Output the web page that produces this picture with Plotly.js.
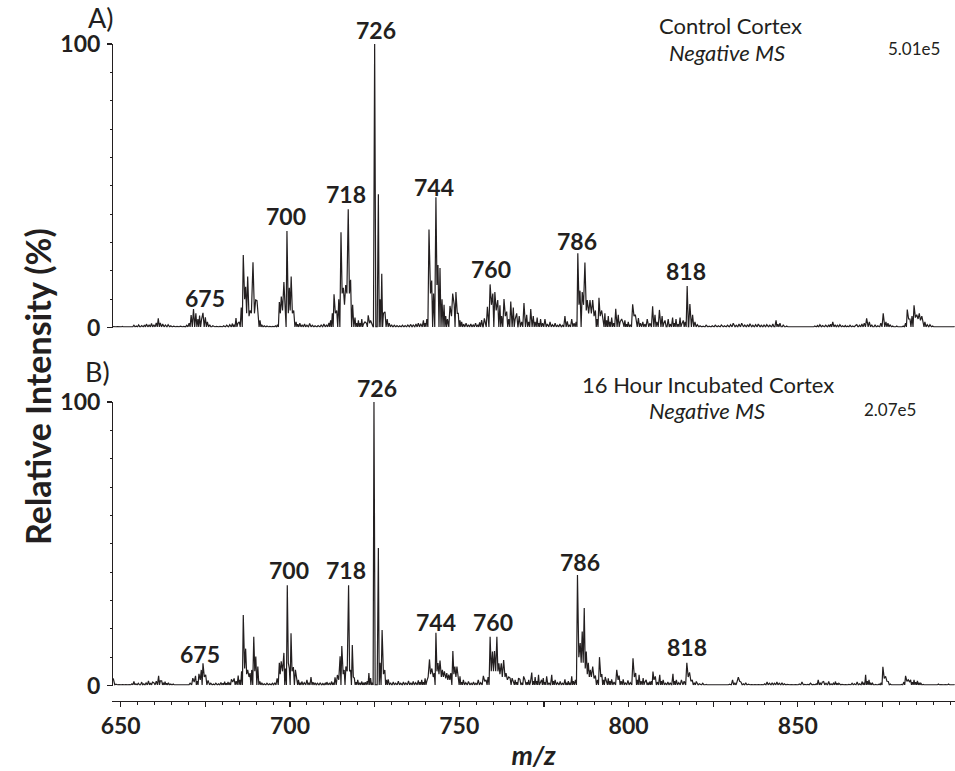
<!DOCTYPE html>
<html>
<head>
<meta charset="utf-8">
<script src="https://cdn.plot.ly/plotly-3.0.1.min.js"></script>
<style>html,body{margin:0;padding:0;background:#fff;}#chart{width:955px;height:771px;}</style>
</head>
<body>
<div id="chart"></div>
<script>
// ---------- DATA ----------
// Panel A: Control Cortex, profile readings (m/z, relative intensity %)
const mzA = [
647.6,649.0,650.5,652.0,653.9,654.6,655.3,656.2,657.0,657.6,
658.4,659.1,659.8,660.5,661.1,661.7,662.4,663.2,664.0,664.8,
665.6,666.6,667.6,668.6,669.5,670.2,670.8,671.5,672.2,672.8,
673.3,673.9,674.3,675.0,675.6,676.3,677.2,678.2,679.3,680.4,
681.3,682.2,683.0,683.5,684.05,684.6,685.0,685.6,686.2,686.6,
686.9,687.2,687.5,687.9,688.2,688.6,689.07,689.5,689.86,690.25,
690.6,691.14,691.7,692.4,693.2,694.0,694.9,695.7,696.3,696.85,
697.15,697.43,697.8,698.2,698.6,699.1,699.5,699.8,700.05,700.35,
700.7,701.1,701.8,702.3,702.9,703.6,704.3,705.0,705.8,706.6,
707.4,708.3,709.2,710.0,710.8,711.5,712.0,712.5,713.0,713.4,
713.8,714.4,715.06,715.4,715.75,716.1,716.45,716.8,717.2,717.55,
717.9,718.5,719.2,719.7,720.2,720.7,721.2,721.7,722.15,722.6,
723.1,723.5,723.8,724.2,725.0,726.1,726.6,727.1,727.6,728.05,
728.7,729.3,730.0,730.8,731.6,732.4,733.2,734.0,734.8,735.6,
736.4,737.2,737.9,738.6,739.4,739.9,740.4,741.05,741.5,741.85,
742.4,743.1,743.4,743.7,744.3,744.9,745.5,746.0,746.5,747.25,
747.7,748.05,748.5,749.0,749.4,749.7,750.2,750.7,751.3,752.0,
752.7,753.4,754.1,754.8,755.5,756.0,756.6,757.4,758.3,759.1,
759.5,759.9,760.5,760.9,761.35,762.0,762.5,763.2,763.6,764.0,
764.6,765.2,765.95,766.5,766.95,767.7,768.4,769.1,769.9,770.5,
771.1,771.85,772.4,773.0,773.5,774.0,774.6,775.3,776.0,776.8,
777.5,778.3,779.0,779.7,780.5,781.2,781.9,782.5,783.2,783.9,
784.5,785.0,785.35,785.65,786.3,786.7,787.1,787.5,787.8,788.2,
788.6,789.0,789.4,789.8,790.2,790.7,791.25,791.6,792.05,792.5,
793.0,793.5,794.0,794.5,795.0,795.6,796.2,796.95,797.5,797.95,
798.4,798.9,799.4,799.9,800.5,801.2,801.6,802.0,802.9,803.5,
804.2,804.8,805.5,806.3,807.1,807.8,808.4,809.1,809.9,810.4,
810.75,811.7,812.3,813.0,813.5,814.0,814.6,815.2,815.7,816.15,
816.7,817.3,818.1,818.9,819.6,820.3,821.1,822.0,822.9,823.8,
824.7,825.6,826.5,827.4,828.3,829.2,830.1,830.9,831.8,832.6,
833.4,834.3,835.1,835.85,836.7,837.5,838.3,839.2,840.0,840.8,
841.7,842.6,843.55,844.1,844.7,845.7,846.7,847.8,849.0,850.2,
851.4,852.6,853.8,855.0,855.8,856.5,857.3,858.2,859.1,859.7,
860.3,861.0,861.7,862.4,863.2,864.0,864.7,865.4,866.2,867.0,
867.4,868.2,868.9,869.6,870.3,871.1,871.8,872.8,873.6,874.5,
875.2,876.0,876.6,877.2,878.0,879.2,880.2,881.1,881.8,882.3,
882.7,883.1,883.7,884.3,884.7,885.1,885.5,885.85,886.2,886.6,
887.0,887.5,888.2,889.0,889.8,891.0,892.5,894.0,
896.3];
const intA = [
0.3,0.3,0.4,0.3,0.8,0.5,0.9,0.7,0.9,1.2,
1.0,1.4,1.0,1.6,3.2,1.6,1.2,0.9,1.0,0.6,
0.5,0.4,0.5,0.4,0.8,1.5,4.4,6.5,5.0,3.0,
4.2,3.0,5.2,3.6,2.0,1.0,0.6,0.4,0.4,0.6,
0.8,1.0,1.4,1.0,3.3,1.5,2.0,7.0,25.6,10.0,
14.4,5.0,18.0,4.0,6.0,5.0,23.0,5.0,9.7,9.5,
3.5,2.5,0.8,0.6,0.5,0.4,0.4,0.6,1.0,9.0,
5.0,10.9,6.0,16.0,8.0,34.0,5.0,14.0,6.0,18.0,
5.0,6.0,2.0,1.2,1.5,1.0,1.2,0.8,1.4,0.8,
0.6,0.7,0.9,1.2,1.0,1.6,2.5,5.0,11.7,5.0,
6.0,10.0,33.6,12.0,14.0,8.0,15.0,12.0,41.7,12.0,
16.8,8.0,3.5,1.5,2.5,1.5,3.0,1.2,2.0,1.5,
4.3,1.5,2.5,1.0,100,47.0,10.0,19.0,5.0,5.5,
3.0,1.5,1.0,0.8,0.7,0.6,0.8,0.7,0.9,1.1,
0.9,1.2,1.5,1.3,2.5,1.5,3.0,34.6,12.0,16.6,
12.0,45.9,15.0,22.0,21.0,10.0,8.0,4.0,3.0,7.6,
4.0,12.0,8.0,12.5,5.0,5.0,2.5,2.0,1.2,1.5,
1.0,1.2,0.9,1.5,1.0,1.8,2.6,3.2,7.3,15.2,
8.0,12.0,12.5,6.0,9.7,7.8,4.0,10.0,4.0,5.6,
3.0,9.2,7.0,3.0,5.0,4.0,2.0,8.6,4.5,2.0,
6.5,4.0,2.0,3.5,1.5,3.0,1.5,3.0,1.2,2.0,
1.0,1.5,0.8,1.2,0.8,4.0,2.2,1.0,3.0,1.5,
2.0,26.2,8.0,13.0,12.5,8.0,22.9,6.0,9.7,5.0,
9.7,5.0,9.7,4.0,6.0,3.0,10.5,4.0,6.0,3.0,
5.0,2.5,4.0,2.0,3.5,1.5,6.6,4.5,2.0,3.0,
1.5,2.5,1.2,2.0,1.0,8.2,4.0,4.5,3.3,1.5,
2.0,1.2,3.0,1.5,7.5,4.5,2.0,6.2,4.0,1.5,
2.5,3.0,1.2,3.5,1.5,3.0,1.2,3.5,1.2,2.5,
2.0,14.6,8.3,4.5,2.0,1.0,0.6,0.5,0.8,0.5,
0.6,0.8,0.6,0.9,0.6,0.8,1.0,1.5,0.8,1.2,
1.5,0.9,1.0,1.3,0.8,1.0,1.2,0.8,0.9,1.0,
0.8,1.2,2.5,1.2,1.5,1.0,0.5,0.3,0.3,0.3,
0.3,0.4,0.4,0.5,0.7,1.0,0.7,0.8,1.0,1.2,
2.0,1.0,0.8,1.0,0.6,0.7,0.5,0.8,0.5,0.7,
1.0,0.8,1.2,1.5,3.2,2.0,1.0,1.0,0.6,1.5,
5.0,2.0,1.5,1.0,0.5,0.5,0.4,0.5,1.5,6.3,
3.0,3.0,4.0,7.8,3.5,4.5,3.0,5.0,2.5,4.0,
1.5,2.0,1.0,1.0,0.5,0.3,0.3,0.3,
0.3];

// Panel B: 16 Hour Incubated Cortex
const mzB = [
647.8,648.6,649.5,650.5,651.5,652.5,653.3,653.9,654.5,655.2,
656.2,656.8,657.5,658.2,658.8,659.4,659.8,660.5,661.2,661.7,
662.1,662.6,663.1,663.6,664.1,664.8,665.5,666.5,667.5,668.5,
669.5,670.5,671.3,671.7,672.1,672.6,673.1,673.5,673.8,674.3,
674.7,675.1,675.8,676.6,677.4,678.1,678.9,679.6,680.2,680.7,
681.2,681.7,682.2,682.7,683.1,683.5,684.1,684.7,685.2,685.7,
686.2,686.6,686.9,687.2,687.5,687.9,688.2,688.7,689.3,689.6,
689.9,690.5,691.1,691.7,692.4,693.2,694.0,694.8,695.5,696.2,
696.85,697.1,697.4,697.8,698.2,698.7,699.2,699.5,699.8,700.3,
700.6,701.0,701.6,702.0,702.5,703.0,703.5,704.2,705.0,705.6,
706.2,706.8,707.4,708.1,708.9,709.7,710.4,710.9,711.6,712.3,
712.8,713.3,714.0,714.4,714.8,715.3,715.7,716.0,716.5,716.9,
717.3,717.6,717.9,718.4,718.7,719.0,719.5,720.0,720.6,721.2,
721.7,722.2,722.8,723.3,723.8,724.3,724.8,726.1,726.6,727.2,
727.6,728.0,728.5,729.0,729.7,730.5,731.2,732.0,732.7,733.5,
734.2,735.0,735.7,736.4,737.1,737.9,738.4,738.9,739.4,739.9,
740.4,740.8,741.2,741.5,741.9,742.3,742.6,743.1,743.4,743.7,
744.0,744.3,744.7,745.0,745.3,745.6,746.0,746.3,746.6,746.9,
747.2,747.5,748.1,748.4,748.7,749.0,749.3,749.7,750.2,750.7,
751.2,751.9,752.7,753.5,754.2,754.9,755.6,756.3,757.1,757.5,
757.9,758.5,759.1,759.45,759.8,760.1,760.4,760.75,761.1,761.4,
761.7,762.0,762.4,762.7,763.1,763.5,763.8,764.2,764.6,765.0,
765.6,766.0,766.5,767.0,767.5,767.9,768.5,769.0,769.4,770.0,
770.5,771.0,771.4,771.9,772.4,772.9,773.4,773.9,774.3,774.8,
775.3,775.8,776.5,777.3,777.8,778.3,779.0,779.8,780.5,781.2,
781.7,782.2,782.7,783.2,783.7,784.3,784.9,785.3,785.7,786.0,
786.3,786.6,786.9,787.2,787.5,787.8,788.1,788.4,788.7,789.0,
789.4,789.8,790.2,790.8,791.4,791.8,792.1,792.6,793.1,793.5,
794.0,794.5,795.0,795.7,796.5,796.9,797.2,797.8,798.4,799.0,
799.8,800.5,801.3,801.7,802.1,802.6,803.1,803.7,804.3,804.8,
805.2,805.7,806.2,806.7,807.2,807.5,807.9,808.5,809.2,809.7,
810.2,810.9,811.6,812.3,813.1,813.6,814.1,814.8,815.6,816.4,
817.2,817.6,818.0,818.4,818.8,819.4,820.0,820.9,821.9,822.9,
824.0,825.2,826.4,827.6,828.8,829.8,830.7,831.4,832.0,832.4,
832.8,833.2,833.9,834.6,835.4,836.3,837.3,838.3,839.3,840.2,
840.9,841.6,842.4,843.1,843.8,844.5,845.3,846.0,846.8,848.0,
849.2,850.4,851.2,852.0,852.9,853.7,854.6,855.4,856.0,856.6,
857.2,857.6,858.3,859.1,859.8,860.5,861.1,861.6,862.1,863.0,
864.0,865.0,866.0,866.7,867.5,868.2,869.0,869.5,870.0,870.5,
871.0,871.5,872.0,873.0,874.0,874.6,875.1,875.5,875.9,876.3,
876.7,877.3,878.4,879.6,880.6,881.3,881.8,882.2,882.6,883.0,
883.3,883.8,884.3,884.8,885.3,885.8,886.3,887.0,888.0,889.3,
890.5,891.5,892.2,893.5,894.5,896.3];
const intB = [
2.5,0.5,0.3,0.3,0.3,0.3,0.6,1.4,0.6,0.8,
1.2,0.6,0.9,1.6,0.9,1.2,1.0,1.5,3.4,1.6,
1.6,1.0,1.4,0.8,1.0,0.5,0.5,0.3,0.3,0.3,
0.3,0.8,2.6,1.2,3.4,1.5,4.1,2.0,5.5,7.8,
3.0,3.8,1.8,0.8,0.5,0.8,0.6,1.1,0.8,1.4,
0.8,1.3,1.0,2.2,1.2,2.5,1.5,3.5,2.0,5.0,
24.9,6.0,13.0,4.0,5.5,3.0,4.4,5.5,17.2,5.0,
10.2,6.7,1.4,0.8,0.6,0.8,0.6,0.8,1.0,2.5,
8.0,4.0,8.5,5.0,11.5,6.0,35.4,8.0,6.0,18.4,
5.0,6.5,5.5,2.0,2.0,1.0,1.4,1.0,2.0,1.0,
3.0,1.2,1.0,0.8,0.9,0.7,0.8,1.2,0.8,1.4,
1.0,2.9,3.7,2.0,10.3,13.9,4.0,5.5,6.7,5.0,
35.4,5.0,5.5,14.3,3.0,2.6,1.2,2.0,1.0,1.4,
1.0,1.2,1.5,4.4,2.6,1.0,100,48.5,8.0,19.6,
4.0,5.5,2.0,2.2,1.0,1.2,0.8,1.5,0.8,1.2,
0.9,1.6,1.0,1.4,1.0,1.8,1.2,2.0,1.2,2.5,
1.5,3.0,9.2,4.0,6.0,3.0,4.4,18.6,5.0,7.9,
4.0,8.8,3.0,5.5,3.0,5.0,2.5,4.4,2.0,3.8,
2.0,4.4,12.2,4.0,6.7,3.0,6.7,2.0,3.2,1.2,
2.0,1.0,1.4,0.8,1.2,0.8,2.0,1.0,3.4,1.5,
2.0,3.0,17.2,5.0,12.0,5.0,12.2,5.0,17.2,5.0,
7.8,4.0,7.8,3.0,9.0,3.0,4.4,2.0,3.0,2.6,
2.6,1.2,2.0,1.2,2.6,2.2,1.0,3.2,2.0,1.2,
2.0,1.0,4.6,1.5,3.0,1.5,3.8,1.2,2.0,2.6,
1.2,3.2,1.0,3.8,1.5,2.0,1.0,1.4,0.8,2.2,
1.0,1.5,1.0,3.2,1.5,2.0,39.0,10.0,15.0,8.0,
19.0,8.0,27.3,6.0,12.0,4.0,8.0,3.0,5.5,3.0,
6.7,2.5,3.5,2.0,10.0,3.0,4.0,2.0,3.0,1.5,
2.5,1.5,2.2,1.2,5.5,2.0,3.5,1.5,2.2,1.0,
1.8,1.0,9.6,3.0,4.4,2.0,3.8,1.5,2.6,1.2,
2.0,1.0,1.4,1.5,4.9,2.0,3.2,1.2,3.8,1.5,
2.0,0.8,1.2,1.0,4.1,1.5,2.0,1.0,2.0,1.5,
8.0,3.0,4.6,1.5,2.0,1.0,1.4,0.6,0.8,0.4,
0.3,0.3,0.3,0.3,0.3,0.5,2.0,0.8,1.2,2.9,
1.5,1.2,0.6,1.0,0.5,0.3,0.3,0.3,0.3,0.6,
1.2,0.8,1.0,0.8,1.2,0.8,1.0,0.6,0.4,0.3,
0.3,0.5,1.2,0.4,0.4,0.8,0.4,0.6,2.0,1.0,
1.2,1.4,0.8,1.4,0.6,0.8,1.4,0.8,0.8,0.4,
0.3,0.4,0.8,0.6,1.2,0.6,1.4,1.0,3.8,1.5,
2.0,1.0,0.8,0.4,0.5,1.0,6.6,2.5,3.2,1.5,
1.4,0.5,0.3,0.3,0.4,1.2,3.4,1.5,2.0,1.2,
2.0,1.2,2.0,1.2,1.6,1.0,0.8,0.4,0.3,0.3,
0.3,0.5,0.3,0.3,0.5,0.3];

// Peak labels and panel texts
const labelsA = ['675','700','718','726','744','760','786','818'];
const labelsB = ['675','700','718','726','744','760','786','818'];
const xTickVals = [650,675,700,725,750,775,800,825,850,875];
const xTickText = ['650','','700','','750','','800','','850',''];
const yTickVals = [0,100];
const yTickText = ['0','100'];
const scaleA = '5.01e5', scaleB = '2.07e5';
const titleA = 'Control Cortex', titleB = '16 Hour Incubated Cortex';
const modeText = 'Negative MS';

// ---------- LAYOUT / STYLE ----------
const INK = '#231f20';
const FONT = 'Lato, "Open Sans", sans-serif';
const H = 771;
const PL = 112, PR = 955, PT = 0, PB = 701;
const px = x => (x - PL) / (PR - PL);
const py = y => (PB - y) / (PB - PT);

// profile line through the readings; where two readings are far apart the line
// drops to the baseline between them (spike look of the spectrum)
const GAP = 0.5, FOOT = 0.35, BASE = 0.2;
function profile(mz, it) {
  const xs = [], ys = [];
  for (let i = 0; i < mz.length; i++) {
    if (i > 0 && mz[i] - mz[i-1] >= GAP) {
      const g = mz[i] - mz[i-1];
      const w = Math.min(FOOT, g / 2);
      xs.push(mz[i-1] + w); ys.push(BASE);
      if (g > 2 * w + 1e-9) { xs.push(mz[i] - w); ys.push(BASE); }
    }
    xs.push(mz[i]); ys.push(it[i]);
  }
  return {xs, ys};
}
const pA = profile(mzA, intA), pB = profile(mzB, intB);

const traces = [
  {x: pA.xs, y: pA.ys, xaxis: 'x', yaxis: 'y2', type: 'scatter', mode: 'lines', name: titleA,
   line: {color: INK, width: 1.2}, hoverinfo: 'skip', showlegend: false},
  {x: pB.xs, y: pB.ys, xaxis: 'x', yaxis: 'y', type: 'scatter', mode: 'lines', name: titleB,
   line: {color: INK, width: 1.2}, hoverinfo: 'skip', showlegend: false}
];

const tickFont = {family: FONT, size: 23, color: INK, weight: 'bold'};
function yAxis(dom) {
  return {
    domain: dom, range: [0, 100], anchor: 'free', position: 0,
    showline: true, linecolor: INK, linewidth: 1.2, mirror: false,
    ticks: 'outside', ticklen: 5, tickwidth: 1.2, tickcolor: INK,
    tickvals: yTickVals, ticktext: yTickText, tickfont: tickFont,
    ticklabelstandoff: 2,
    minor: {dtick: 10, tick0: 0, ticks: 'outside', ticklen: 2.5, tickwidth: 1, tickcolor: INK, showgrid: false},
    showgrid: false, zeroline: false, fixedrange: true
  };
}

// label centres (pixels measured on the reference)
const labPosA = [[205,298],[286,216],[346,194],[376,30],[434,187],[491,269],[577,241],[686,271]];
const labPosB = [[200,654],[289,570],[346,570],[377,388],[436,622],[493,622],[580,562],[687,647]];

const ann = [];
function txt(t, x, y, size, extra) {
  return Object.assign({text: t, x: px(x), y: py(y), xref: 'paper', yref: 'paper', showarrow: false,
    xanchor: 'center', yanchor: 'middle', font: {family: FONT, size: size, color: INK}}, extra || {});
}
labelsA.forEach((t, i) => ann.push(txt('<b>' + t + '</b>', labPosA[i][0], labPosA[i][1], 23)));
labelsB.forEach((t, i) => ann.push(txt('<b>' + t + '</b>', labPosB[i][0], labPosB[i][1], 23)));
ann.push(txt('A)', 101, 18, 27));
ann.push(txt('B)', 97, 371, 27));
ann.push(txt(titleA, 730, 26, 22));
ann.push(txt('<i>' + modeText + '</i>', 727, 52, 22));
ann.push(txt(scaleA, 914, 49, 17));
ann.push(txt(titleB, 708, 384, 22));
ann.push(txt('<i>' + modeText + '</i>', 707, 410, 22));
ann.push(txt(scaleB, 890, 409, 17));
ann.push(txt('<b>Relative Intensity (%)</b>', 37, 387, 34, {textangle: -90}));

const layout = {
  width: 955, height: H,
  margin: {l: PL, r: 955 - PR, t: PT, b: H - PB, pad: 0},
  paper_bgcolor: '#fff', plot_bgcolor: '#fff',
  showlegend: false,
  xaxis: {
    range: [647.43, 896.4], anchor: 'free', position: 0, domain: [0, 1],
    showline: true, linecolor: INK, linewidth: 1.2,
    ticks: 'outside', ticklen: 4.5, tickwidth: 1.2, tickcolor: INK,
    tickvals: xTickVals, ticktext: xTickText, tickfont: tickFont,
    minor: {dtick: 5, tick0: 650, ticks: 'outside', ticklen: 2.8, tickwidth: 1, tickcolor: INK, showgrid: false},
    showgrid: false, zeroline: false, fixedrange: true,
    title: {text: '<b><i>m/z</i></b>', font: {family: FONT, size: 27, color: INK}, standoff: 8}
  },
  yaxis: yAxis([py(685.5), py(402)]),
  yaxis2: yAxis([py(327.5), py(44)]),
  annotations: ann
};

Plotly.newPlot('chart', traces, layout, {staticPlot: true, displayModeBar: false});
</script>
</body>
</html>
